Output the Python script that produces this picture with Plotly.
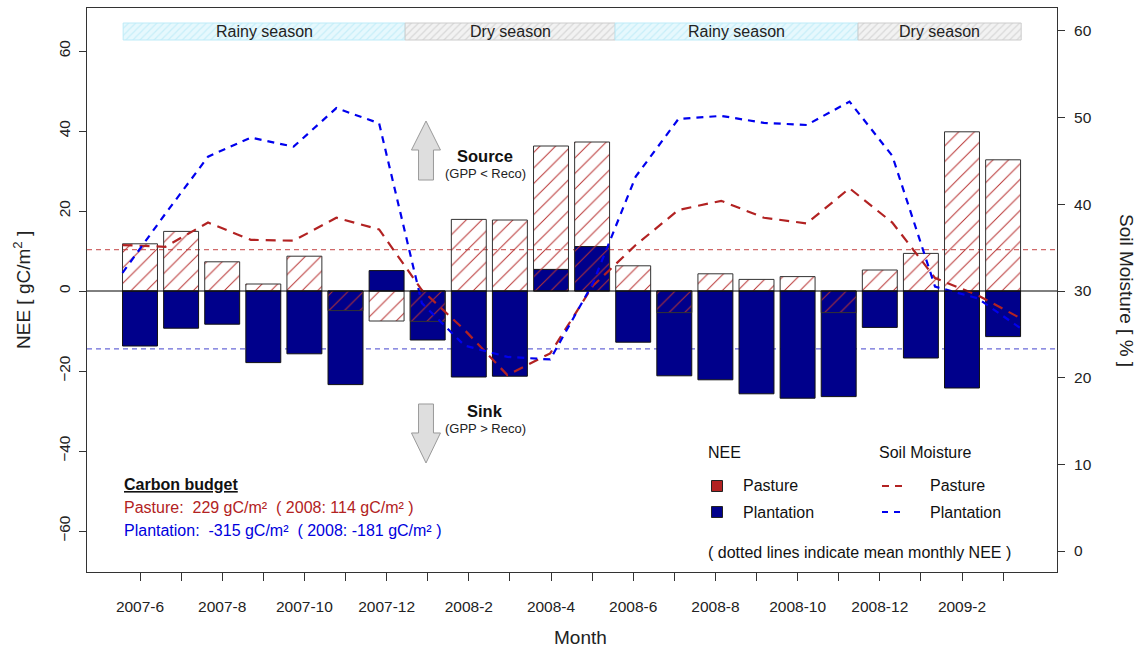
import numpy as np
import plotly.graph_objects as go

# ---------------- data ----------------
months = ["2007-6", "2007-7", "2007-8", "2007-9", "2007-10", "2007-11", "2007-12",
          "2008-1", "2008-2", "2008-3", "2008-4", "2008-5", "2008-6", "2008-7",
          "2008-8", "2008-9", "2008-10", "2008-11", "2008-12", "2009-1", "2009-2", "2009-3"]
label_idx = [i for i in range(len(months)) if i % 2 == 0]
label_text = [months[i] for i in label_idx]
minor_idx = [i for i in range(len(months)) if i % 2 == 1]

nee_pasture = [11.8, 14.9, 7.3, 1.75, 8.7, -4.9, -7.5, -7.6, 17.9, 17.75, 36.25, 37.25,
               6.3, -5.4, 4.3, 2.9, 3.6, -5.4, 5.25, 9.4, 39.8, 32.8]
nee_plantation = [-13.75, -9.3, -8.3, -17.9, -15.7, -23.4, 5.1, -12.25, -21.5, -21.3, 5.4, 11.1,
                  -12.8, -21.2, -22.2, -25.7, -26.8, -26.4, -9.1, -16.75, -24.25, -11.4]
sm_pasture = [35.3, 35.1, 37.9, 35.9, 35.8, 38.45, 37.1, 30.1, 25.5, 20.3, 22.8, 30.6,
              35.3, 39.35, 40.4, 38.45, 37.8, 41.85, 37.9, 31.5, 29.5, 26.85]
sm_plantation = [32.1, 38.9, 45.5, 47.7, 46.65, 51.1, 49.35, 28.6, 23.7, 22.4, 22.1, 30.9,
                 43.2, 49.85, 50.2, 49.4, 49.15, 51.85, 45.6, 30.5, 29.15, 25.7]

season_names = ["Rainy season", "Dry season", "Rainy season", "Dry season"]
season_kind = ["rainy", "dry", "rainy", "dry"]
season_edges = [-0.41, 6.45, 11.56, 17.47, 21.44]

budget_pasture = "Pasture:  229 gC/m²  ( 2008: 114 gC/m² )"
budget_plantation = "Plantation:  -315 gC/m²  ( 2008: -181 gC/m² )"

# ---------------- styles ----------------
FONT = "Liberation Sans, Arial, sans-serif"
RED = "#B22222"
HATCH_RED = "#B83232"
NAVY = "#00008B"
BLUE = "#0000EE"
BAR_W = 0.85

x_idx = np.arange(len(months))
x_sm = np.linspace(-BAR_W / 2, len(months) - 1 + BAR_W / 2, len(months))

# plot area in pixels
L, R, T, B = 87, 1057, 8, 572


def pxx(x):
    return (x - L) / (R - L)


def pxy(y):
    return (B - y) / (B - T)


fig = go.Figure()

# season bands
for i, name in enumerate(season_names):
    x0, x1 = season_edges[i], season_edges[i + 1]
    if season_kind[i] == "rainy":
        fg, bg, ln = "#A8E4F4", "#E6F8FD", "#BDEBF8"
    else:
        fg, bg, ln = "#BDBDBD", "#F2F2F2", "#CCCCCC"
    fig.add_trace(go.Bar(
        x=[(x0 + x1) / 2], y=[4.25], base=[62.75], width=[x1 - x0],
        marker=dict(color=fg, line=dict(color=ln, width=1),
                    pattern=dict(shape="/", size=5, solidity=0.25, bgcolor=bg, fgcolor=fg)),
        showlegend=False, hoverinfo="skip"))

# plantation bars
fig.add_trace(go.Bar(
    x=x_idx, y=nee_plantation, width=BAR_W, name="Plantation",
    marker=dict(color=NAVY, line=dict(color="#111111", width=1)),
    showlegend=False))

# pasture bars (hatched, transparent)
fig.add_trace(go.Bar(
    x=x_idx, y=nee_pasture, width=BAR_W, name="Pasture",
    marker=dict(color=HATCH_RED, line=dict(color="#333333", width=1),
                pattern=dict(shape="/", size=11, solidity=0.09, fgcolor=HATCH_RED,
                             bgcolor="rgba(0,0,0,0)", fillmode="replace")),
    showlegend=False))

# soil moisture lines
fig.add_trace(go.Scatter(
    x=x_sm, y=sm_pasture, yaxis="y2", mode="lines",
    line=dict(color=RED, width=2.2, dash="10px,7px"), showlegend=False))
fig.add_trace(go.Scatter(
    x=x_sm, y=sm_plantation, yaxis="y2", mode="lines",
    line=dict(color=BLUE, width=2.2, dash="7px,6px"), showlegend=False))

shapes = []
# mean lines
shapes.append(dict(type="line", xref="paper", x0=0, x1=1, yref="y",
                   y0=float(np.mean(nee_pasture)), y1=float(np.mean(nee_pasture)),
                   line=dict(color="#D06A6A", width=1.2, dash="5px,4px"), layer="below"))
shapes.append(dict(type="line", xref="paper", x0=0, x1=1, yref="y",
                   y0=float(np.mean(nee_plantation)), y1=float(np.mean(nee_plantation)),
                   line=dict(color="#6A6AD8", width=1.2, dash="5px,4px"), layer="below"))
# zero line
shapes.append(dict(type="line", xref="paper", x0=0, x1=1, yref="y", y0=0, y1=0,
                   line=dict(color="#000000", width=1)))


# arrows
def arrow_path(cx, tip, base, tail):
    hw, sw = 14.5, 7.5
    pts = [(cx, tip), (cx + hw, base), (cx + sw, base), (cx + sw, tail),
           (cx - sw, tail), (cx - sw, base), (cx - hw, base)]
    return "M " + " L ".join(f"{pxx(x):.4f},{pxy(y):.4f}" for x, y in pts) + " Z"


shapes.append(dict(type="path", xref="paper", yref="paper", path=arrow_path(426, 121, 150, 180),
                   fillcolor="#DEDEDE", line=dict(color="#9A9A9A", width=1)))
shapes.append(dict(type="path", xref="paper", yref="paper", path=arrow_path(426, 463, 433, 404),
                   fillcolor="#DEDEDE", line=dict(color="#9A9A9A", width=1)))

# legend keys
for yy, col in [(486, "#B22222"), (512, NAVY)]:
    shapes.append(dict(type="rect", xref="paper", yref="paper",
                       x0=pxx(711.5), x1=pxx(722.5), y0=pxy(yy + 5.5), y1=pxy(yy - 5.5),
                       fillcolor=col, line=dict(color="#222222", width=1)))
for yy, col, dash in [(486, RED, "7px,6px"), (512, BLUE, "6px,6px")]:
    shapes.append(dict(type="line", xref="paper", yref="paper",
                       x0=pxx(882), x1=pxx(904), y0=pxy(yy), y1=pxy(yy),
                       line=dict(color=col, width=2.2, dash=dash)))

ann = []
for i, name in enumerate(season_names):
    ann.append(dict(x=(season_edges[i] + season_edges[i + 1]) / 2, y=65, xref="x", yref="y",
                    text=name, showarrow=False, font=dict(size=16, color="#222222")))


def txt(x, y, s, size=16, color="#111111", xanchor="left", angle=0):
    ann.append(dict(x=pxx(x), y=pxy(y), xref="paper", yref="paper", text=s, showarrow=False,
                    xanchor=xanchor, yanchor="middle", textangle=angle,
                    font=dict(size=size, color=color)))


txt(485, 156, "<b>Source</b>", 16.5, "#111111", "center")
txt(485, 173.5, "(GPP &lt; Reco)", 13, "#222222", "center")
txt(485, 411, "<b>Sink</b>", 16.5, "#111111", "center")
txt(485, 428, "(GPP &gt; Reco)", 13, "#222222", "center")

txt(122, 484.5, "<b><u>Carbon budget</u></b>", 16, "#111111")
txt(122, 507.5, budget_pasture, 16, "#B22222")
txt(122, 530.5, budget_plantation, 16, "#0000DD")

txt(706, 452, "NEE", 16)
txt(877, 452, "Soil Moisture", 16)
txt(741, 486, "Pasture", 16)
txt(741, 512, "Plantation", 16)
txt(928, 486, "Pasture", 16)
txt(928, 512, "Plantation", 16)
txt(706, 552, "( dotted lines indicate mean monthly NEE )", 16)

txt(580, 637, "Month", 19, "#222222", "center")
txt(22, 290, "NEE [ gC/m<sup>2</sup> ]", 19, "#222222", "center", -90)
txt(1127, 290, "Soil Moisture [ % ]", 19, "#222222", "center", 90)

fig.update_layout(
    width=1143, height=650,
    margin=dict(l=L, r=1143 - R, t=T, b=650 - B, pad=0),
    paper_bgcolor="white", plot_bgcolor="white",
    barmode="overlay",
    font=dict(family=FONT, size=15, color="#222222"),
    showlegend=False,
    xaxis=dict(range=[(L - 140) / 41.1, (R - 140) / 41.1], tickvals=label_idx, ticktext=label_text,
               ticks="outside", ticklen=8, tickcolor="#333333", showline=True, mirror=True,
               linecolor="#333333", linewidth=1, showgrid=False, zeroline=False,
               ticklabelstandoff=12,
               minor=dict(tickmode="array", tickvals=minor_idx, ticks="outside", ticklen=8,
                          tickcolor="#333333", showgrid=False),
               tickfont=dict(size=15.5, color="#222222")),
    yaxis=dict(range=[-70.25, 70.75], tickvals=[-60, -40, -20, 0, 20, 40, 60], tickangle=-90,
               ticks="outside", ticklen=7, tickcolor="#333333", showline=True, mirror=True,
               linecolor="#333333", linewidth=1, showgrid=False, zeroline=False,
               ticklabelstandoff=3,
               tickfont=dict(size=15.5, color="#222222")),
    yaxis2=dict(range=[-2.42, 62.65], overlaying="y", side="right",
                tickvals=[0, 10, 20, 30, 40, 50, 60], ticks="outside", ticklen=7,
                tickcolor="#333333", showline=True, linecolor="#333333", showgrid=False,
                zeroline=False, ticklabelstandoff=6,
                tickfont=dict(size=15.5, color="#222222")),
    shapes=shapes, annotations=ann,
)

fig.write_html("out.html", config={"displayModeBar": False},
               post_script="document.body.style.margin='0';")
